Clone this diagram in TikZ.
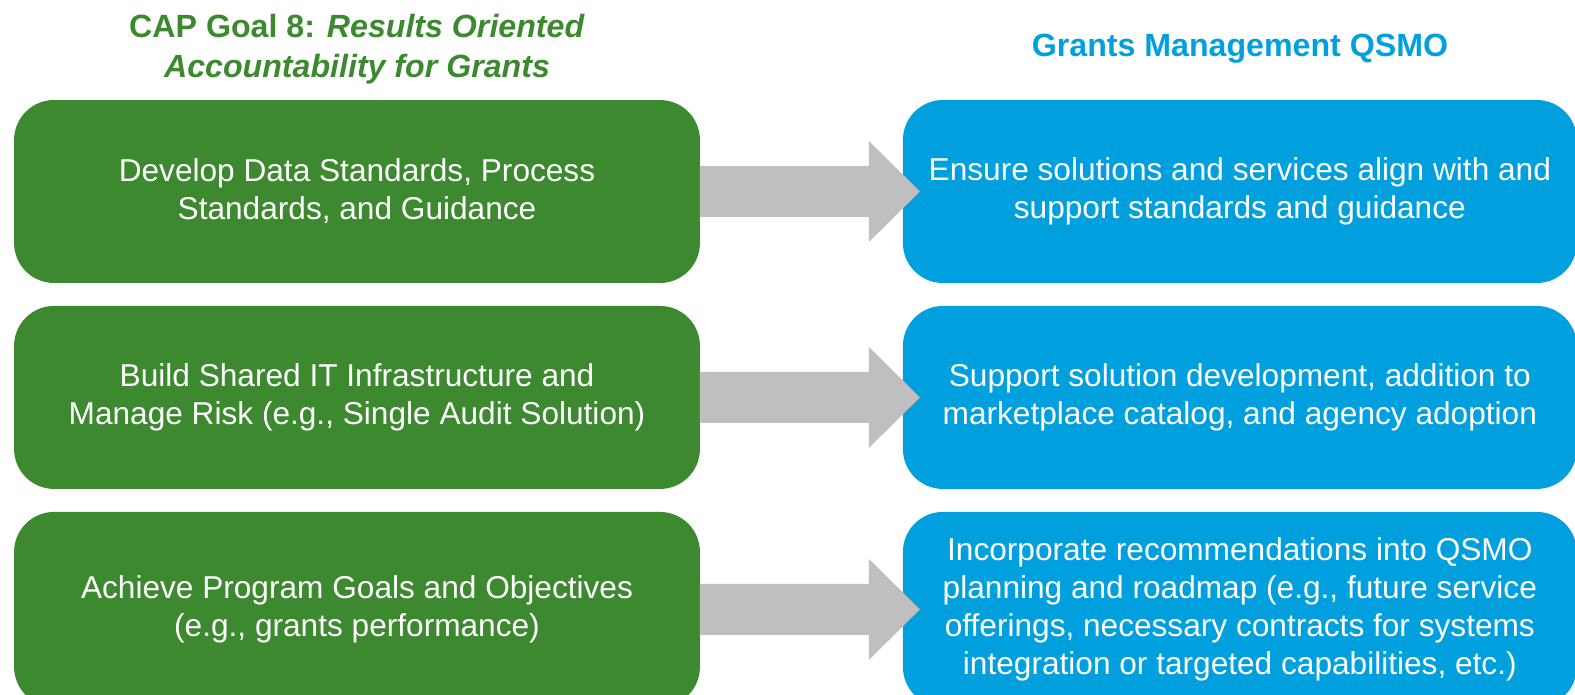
\documentclass[tikz,border=0pt]{standalone}
\usepackage{fontspec}
\setmainfont{Liberation Sans}
\usetikzlibrary{positioning}

\definecolor{goalgreen}{RGB}{60,137,48}
\definecolor{qsmoblue}{RGB}{0,160,223}
\definecolor{arrowgrey}{RGB}{191,191,191}

\begin{document}
\begin{tikzpicture}[x=0.02cm, y=-0.02cm,
    goal/.style = {fill=goalgreen, rounded corners=0.8cm, minimum width=13.72cm, minimum height=3.66cm,
                   inner sep=0pt, outer sep=0pt, text=white, align=center,
                   font=\fontsize{18pt}{21.6pt}\selectfont},
    qsmo/.style = {goal, fill=qsmoblue, minimum width=13.48cm},
    head/.style = {align=center, font=\bfseries\fontsize{18.3pt}{23pt}\selectfont}]
    \useasboundingbox (0,0) rectangle (1575,695);

    \node[head, text=goalgreen] (t1) at (357,49) {CAP Goal 8: \textit{Results Oriented}\\\textit{Accountability for Grants}};
    \node[head, text=qsmoblue] (t2) at (1240,49) {Grants Management QSMO};

    \node[goal] (g1) at (357,191.5) {Develop Data Standards, Process\\Standards, and Guidance};
    \node[goal] (g2) [below=0.46cm of g1] {Build Shared IT Infrastructure and\\Manage Risk (e.g., Single Audit Solution)};
    \node[goal, minimum height=3.9cm] (g3) [below=0.46cm of g2] {Achieve Program Goals and Objectives\\(e.g., grants performance)};

    \node[qsmo] (b1) [right=4.06cm of g1] {Ensure solutions and services align with and\\support standards and guidance};
    \node[qsmo] (b2) [right=4.06cm of g2] {Support solution development, addition to\\marketplace catalog, and agency adoption};
    \node[qsmo, minimum height=3.9cm] (b3) [below=0.46cm of b2] {Incorporate recommendations into QSMO\\planning and roadmap (e.g., future service\\offerings, necessary contracts for systems\\integration or targeted capabilities, etc.)};

    \foreach \i in {1,2,3}
        \fill[arrowgrey] ([yshift=0.51cm]g\i.east) -- ([xshift=-0.68cm,yshift=0.51cm]b\i.west)
            -- ([xshift=-0.68cm,yshift=1.01cm]b\i.west) -- ([xshift=0.34cm]b\i.west)
            -- ([xshift=-0.68cm,yshift=-1.01cm]b\i.west) -- ([xshift=-0.68cm,yshift=-0.51cm]b\i.west)
            -- ([yshift=-0.51cm]g\i.east) -- cycle;
\end{tikzpicture}
\end{document}
